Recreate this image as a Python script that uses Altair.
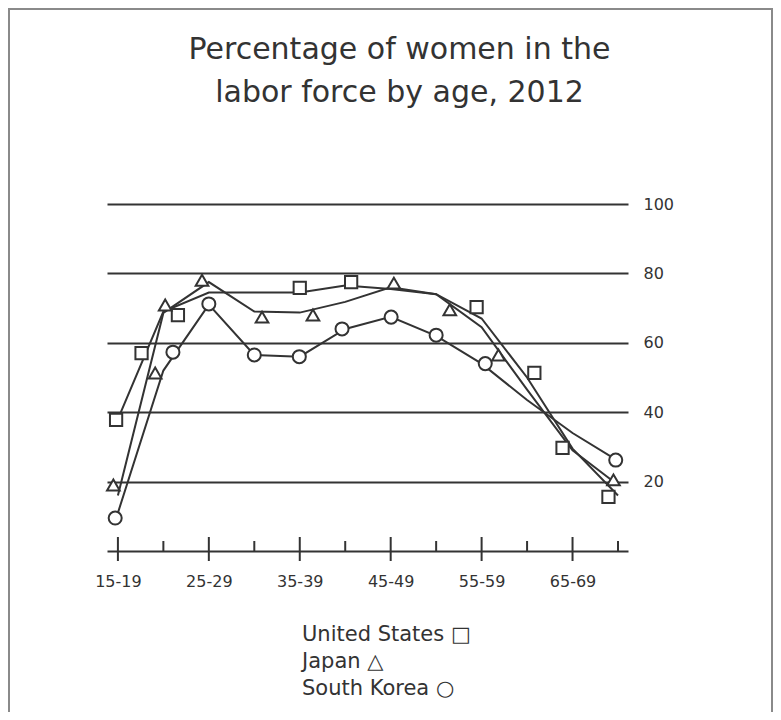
import json
import altair as alt
import pandas as pd

# ---------------- data ----------------
title_lines = ["Percentage of women in the", "labor force by age, 2012"]
age_groups = ["15-19", "20-24", "25-29", "30-34", "35-39", "40-44",
              "45-49", "50-54", "55-59", "60-64", "65-69", "70-74"]
series = ["United States", "Japan", "South Korea"]
legend_symbols = ["\u25a1", "\u25b3", "\u25cb"]

# line vertices (one per age group), percent
us_line = [38, 69, 74.5, 74.5, 74.5, 76.5, 75.5, 74, 67, 50, 29.5, 16]
japan_line = [16, 68.6, 77.5, 69, 68.7, 71.8, 76, 74, 64.5, 46.5, 29, 19]
korea_line = [11, 52, 71, 56.5, 56, 64, 67.5, 62, 54, 43.5, 34, 26]

# hand-placed markers (position in age-group index units, percent)
us_marker_pos = [-0.04, 0.52, 1.32, 4.0, 5.13, 7.89, 9.16, 9.78, 10.79]
us_marker_val = [37.8, 57, 68, 75.8, 77.5, 70.3, 51.3, 29.7, 15.6]
japan_marker_pos = [-0.1, 0.82, 1.04, 1.85, 3.17, 4.29, 6.07, 7.3, 8.37, 10.9]
japan_marker_val = [19, 51.3, 70.9, 78, 67.4, 68, 77.2, 69.5, 56.5, 20.5]
korea_marker_pos = [-0.06, 1.21, 2.0, 3.0, 3.99, 4.93, 6.01, 7.0, 8.08, 10.95]
korea_marker_val = [9.5, 57.3, 71.2, 56.5, 56, 64, 67.4, 62.2, 54, 26.2]

y_ticks = [20, 40, 60, 80, 100]

# ---------------- tables ----------------
lines_df = pd.concat([
    pd.DataFrame({"series": s, "idx": list(range(len(age_groups))), "value": v})
    for s, v in zip(series, [us_line, japan_line, korea_line])
], ignore_index=True)

markers_df = pd.concat([
    pd.DataFrame({"series": s, "idx": p, "value": v})
    for s, p, v in zip(series,
                       [us_marker_pos, japan_marker_pos, korea_marker_pos],
                       [us_marker_val, japan_marker_val, korea_marker_val])
], ignore_index=True)

ticks_df = pd.DataFrame({"idx": list(range(len(age_groups))), "group": age_groups})

# ---------------- style ----------------
INK = "#333333"
FONT = "DejaVu Sans"
W, H = 521, 347
PAD = {"left": 99, "top": 196, "right": 145, "bottom": 161}

label_expr = json.dumps(age_groups) + "[datum.value]"

x_scale = alt.Scale(domain=[-0.24, 11.22], nice=False, zero=False)
y_scale = alt.Scale(domain=[0, 100], nice=False)

x_enc = alt.X("idx:Q", scale=x_scale,
              axis=alt.Axis(values=[0, 2, 4, 6, 8, 10], labelExpr=label_expr,
                            title=None, grid=False, ticks=False,
                            domainColor=INK, domainWidth=2,
                            labelFont=FONT, labelFontSize=16, labelColor=INK,
                            labelPadding=22))
y_enc = alt.Y("value:Q", scale=y_scale,
              axis=alt.Axis(orient="right", values=y_ticks, title=None,
                            domain=False, ticks=False, grid=True,
                            gridColor=INK, gridWidth=2,
                            labelFont=FONT, labelFontSize=16, labelColor=INK,
                            labelPadding=15, labelAlign="left"))

frame = alt.Chart(pd.DataFrame({"k": [0]})).mark_rect(
    fillOpacity=0, stroke="#8a8a8a", strokeWidth=2
).encode(
    x=alt.value(-PAD["left"] + 1), x2=alt.value(W + PAD["right"] - 1),
    y=alt.value(-PAD["top"] + 1), y2=alt.value(H + PAD["bottom"] + 20),
)

lines = alt.Chart(lines_df).mark_line(color=INK, strokeWidth=2).encode(
    x=x_enc, y=y_enc, detail="series:N",
)

major_ticks = alt.Chart(ticks_df).transform_filter("datum.idx % 2 == 0").mark_rule(
    color=INK, strokeWidth=2
).encode(
    x=alt.X("idx:Q", scale=x_scale), y=alt.value(H - 14), y2=alt.value(H + 10)
)
minor_ticks = alt.Chart(ticks_df).transform_filter("datum.idx % 2 == 1").mark_rule(
    color=INK, strokeWidth=2
).encode(
    x=alt.X("idx:Q", scale=x_scale), y=alt.value(H - 10), y2=alt.value(H)
)

markers = alt.Chart(markers_df).mark_point(
    filled=True, fill="white", stroke=INK, strokeWidth=2, opacity=1
).encode(
    x=alt.X("idx:Q", scale=x_scale),
    y=alt.Y("value:Q", scale=y_scale),
    shape=alt.Shape("series:N",
                    scale=alt.Scale(domain=series,
                                    range=["square", "triangle-up", "circle"]),
                    legend=None),
    size=alt.Size("series:N",
                  scale=alt.Scale(domain=series, range=[150, 170, 140]),
                  legend=None),
)

legend_text = "\n".join(f"{s} {sym}" for s, sym in zip(series, legend_symbols))
legend = alt.Chart(pd.DataFrame({"t": [legend_text]})).mark_text(
    align="left", baseline="middle", font=FONT, fontSize=21, color=INK,
    lineBreak="\n", lineHeight=27
).encode(
    text="t:N", x=alt.value(195), y=alt.value(431)
)

chart = alt.layer(
    frame, lines, major_ticks, minor_ticks, markers, legend
).properties(
    width=W, height=H,
    padding=PAD,
    autosize=alt.AutoSizeParams(type="none"),
    title=alt.TitleParams(text=title_lines, font=FONT, fontSize=30,
                          fontWeight="normal", color=INK, anchor="middle",
                          dx=32, offset=-100, lineHeight=43),
).configure_view(stroke=None)

chart.save("out.html", embed_options={"renderer": "svg", "actions": False})
